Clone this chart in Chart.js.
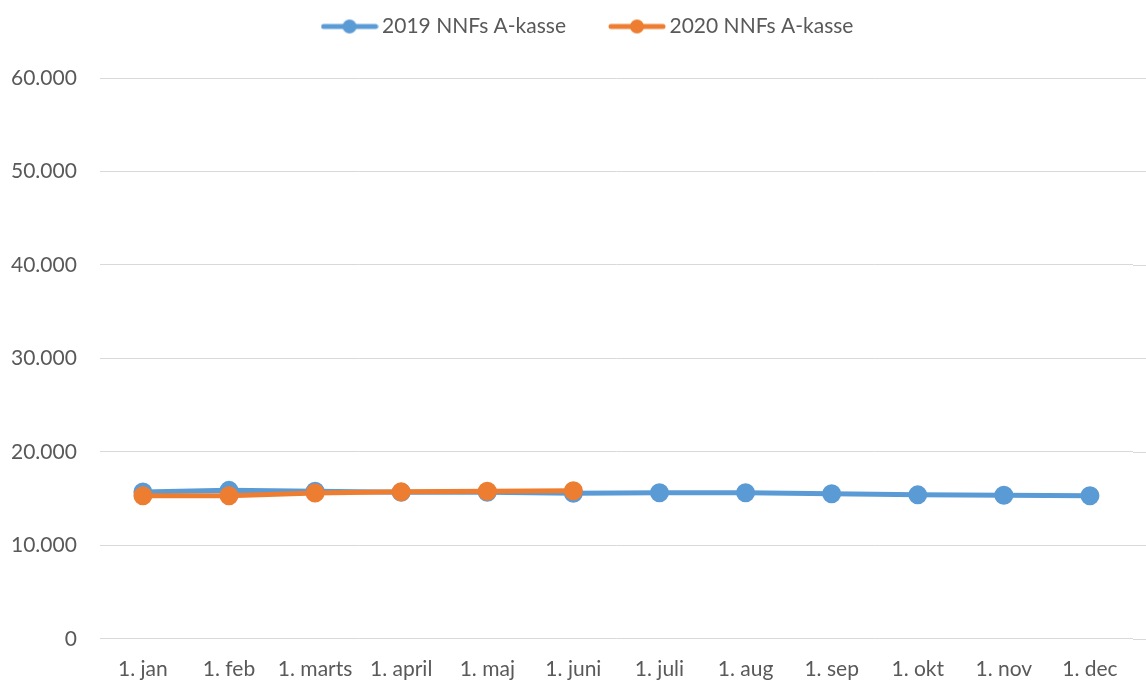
<!DOCTYPE html>
<html>
<head>
<meta charset="utf-8">
<script src="https://cdn.jsdelivr.net/npm/chart.js@4/dist/chart.umd.min.js"></script>
<style>
  html, body { margin: 0; padding: 0; background: #fff; }
  #wrap { width: 1146px; height: 682px; }
</style>
</head>
<body>
<div id="wrap"><canvas id="chart"></canvas></div>
<script>
const months = ['1. jan', '1. feb', '1. marts', '1. april', '1. maj', '1. juni',
                '1. juli', '1. aug', '1. sep', '1. okt', '1. nov', '1. dec'];
const values2019 = [15700, 15880, 15780, 15680, 15670, 15560, 15620, 15620, 15510, 15400, 15350, 15300];
const values2020 = [15300, 15310, 15600, 15720, 15780, 15830];

const blue = '#5B9BD5';
const orange = '#ED7D31';
const textColor = '#595959';
const gridColor = '#D9D9D9';

// legend marker: line with a dot in the middle
function legendMarker(color) {
    const c = document.createElement('canvas');
    c.width = 58;
    c.height = 16;
    const g = c.getContext('2d');
    g.strokeStyle = color;
    g.lineWidth = 5;
    g.lineCap = 'round';
    g.beginPath();
    g.moveTo(3, 8);
    g.lineTo(55, 8);
    g.stroke();
    g.fillStyle = color;
    g.beginPath();
    g.arc(29, 8, 7, 0, Math.PI * 2);
    g.fill();
    return c;
}
const markers = [legendMarker(blue), legendMarker(orange)];

// extra room under the legend, and nudge it right a bit
const legendTweak = {
    id: 'legendTweak',
    beforeInit(chart) {
        const fit = chart.legend.fit;
        chart.legend.fit = function () {
            fit.call(this);
            this.height += 31;
        };
        const draw = chart.legend.draw;
        chart.legend.draw = function () {
            this.ctx.save();
            this.ctx.translate(30, 0);
            draw.call(this);
            this.ctx.restore();
        };
    }
};

// horizontal grid lines run on to the right edge of the canvas
const gridToEdge = {
    id: 'gridToEdge',
    beforeDatasetsDraw(chart) {
        const y = chart.scales.y;
        const c = chart.ctx;
        c.save();
        c.strokeStyle = gridColor;
        c.lineWidth = 1;
        y.ticks.forEach(t => {
            const py = Math.round(y.getPixelForValue(t.value)) + 0.5;
            c.beginPath();
            c.moveTo(chart.chartArea.right, py);
            c.lineTo(chart.width, py);
            c.stroke();
        });
        c.restore();
    }
};

const ctx = document.getElementById('chart').getContext('2d');
new Chart(ctx, {
    type: 'line',
    data: {
        labels: months,
        datasets: [
            {
                label: '2019 NNFs A-kasse',
                data: values2019,
                borderColor: blue,
                backgroundColor: blue,
                borderWidth: 5,
                pointRadius: 7,
                pointHoverRadius: 7,
                order: 1
            },
            {
                label: '2020 NNFs A-kasse',
                data: values2020,
                borderColor: orange,
                backgroundColor: orange,
                borderWidth: 5,
                pointRadius: 7,
                pointHoverRadius: 7,
                order: 0
            }
        ]
    },
    plugins: [legendTweak, gridToEdge],
    options: {
        responsive: true,
        maintainAspectRatio: false,
        animation: false,
        layout: { padding: { left: -12, right: 13, top: -33, bottom: -18 } },
        plugins: {
            legend: {
                display: true,
                position: 'top',
                labels: {
                    usePointStyle: true,
                    pointStyleWidth: 44,
                    color: textColor,
                    font: { family: 'Lato', size: 21 },
                    padding: 49,
                    generateLabels: chart => chart.data.datasets.map((ds, i) => ({
                        text: ds.label,
                        fillStyle: ds.borderColor,
                        strokeStyle: ds.borderColor,
                        fontColor: textColor,
                        lineWidth: 0,
                        pointStyle: markers[i],
                        hidden: !chart.isDatasetVisible(i),
                        datasetIndex: i
                    }))
                }
            },
            tooltip: { enabled: false }
        },
        scales: {
            x: {
                offset: true,
                grid: { display: false, drawTicks: false },
                border: { display: false },
                ticks: { color: textColor, font: { family: 'Lato', size: 21 }, maxRotation: 0, autoSkip: false, padding: 18 }
            },
            y: {
                min: 0,
                max: 60000,
                grid: { color: gridColor, lineWidth: 1, drawTicks: false },
                border: { display: false },
                ticks: {
                    stepSize: 10000,
                    padding: 23,
                    color: textColor,
                    font: { family: 'Lato', size: 21 },
                    callback: v => v.toString().replace(/\B(?=(\d{3})+(?!\d))/g, '.')
                }
            }
        }
    }
});
</script>
</body>
</html>
